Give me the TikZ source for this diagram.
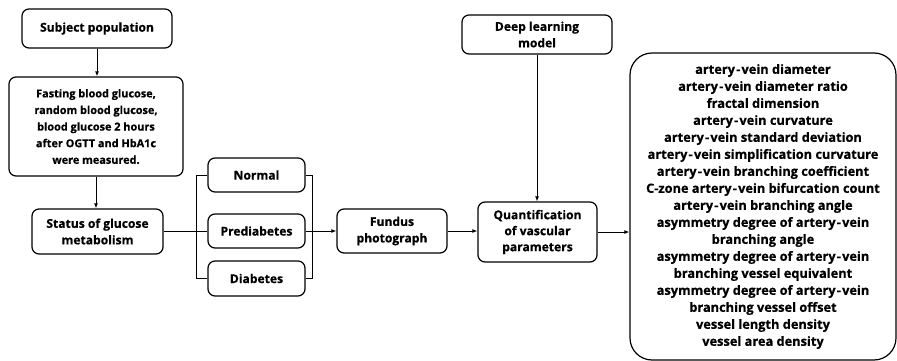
\documentclass[tikz,border=0pt]{standalone}
\usepackage{fontspec}
\setmainfont{Open Sans}[BoldFeatures={FakeBold=0.6}]
\usetikzlibrary{arrows.meta, positioning}

\newcommand{\av}{artery\kern1.2pt-\kern1.2pt vein}

\begin{document}
\begin{tikzpicture}[
    x=1pt, y=-1pt,
    font=\fontsize{12.1}{16.5}\selectfont\bfseries,
    box/.style={rectangle, draw, line width=1.2pt, rounded corners=7pt, align=center, inner sep=2pt},
    arrow/.style={-{Latex[length=5pt,width=4pt]}, line width=1pt},
    link/.style={line width=1pt}
]
    \useasboundingbox (0,0) rectangle (897,361);

    % Left column
    \node[box, minimum width=150pt, minimum height=39pt] (subject) at (97,28.5) {Subject population};
    \node[box, minimum width=174pt, minimum height=99pt, font=\fontsize{10.9}{16.6}\selectfont\bfseries] (fasting) at (96,126.5) {Fasting blood glucose,\\random blood glucose,\\blood glucose 2 hours\\after OGTT and HbA1c\\were measured.};
    \node[box, minimum width=131pt, minimum height=45pt] (status) at (97.5,231.5) {Status of glucose\\metabolism};

    \draw[arrow] (subject.south) -- (subject.south |- fasting.north);
    \draw[arrow] (fasting.south) -- (fasting.south |- status.north);

    % Groups
    \node[box, minimum width=97pt, minimum height=34pt] (normal) at (256.5,175) {Normal};
    \node[box, minimum width=97pt, minimum height=34pt] (prediab) at (256.5,231) {Prediabetes};
    \node[box, minimum width=97pt, minimum height=35pt] (diab) at (256.5,278.5) {Diabetes};

    \draw[link] (status.east) -- (status.east -| prediab.west);
    \draw[link] (normal.west) -- ++(-11,0) |- (diab.west);
    \draw[link] (normal.east) -- ++(7,0) |- (diab.east);

    % Imaging and quantification
    \node[box, minimum width=110pt, minimum height=44pt] (fundus) at (392,231) {Fundus\\photograph};
    \node[box, minimum width=119pt, minimum height=60pt, font=\fontsize{12.1}{16}\selectfont\bfseries] (quant) at (537.5,232) {Quantification\\of vascular\\parameters};
    \node[box, minimum width=150pt, minimum height=39pt] (deep) at (537,34.5) {Deep learning\\model};

    \draw[arrow] (prediab.east) -- (prediab.east -| fundus.west);
    \draw[arrow] (fundus.east) -- (fundus.east -| quant.west);
    \draw[arrow] (deep.south) -- (deep.south |- quant.north);

    % Parameters
    \node[box, rounded corners=22pt, minimum width=266pt, minimum height=307pt, font=\fontsize{12.8}{17}\selectfont\bfseries] (params) at (763,206.5) {\av{} diameter\\\av{} diameter ratio\\fractal dimension\\\av{} curvature\\\av{} standard deviation\\\av{} simplification curvature\\\av{} branching coefficient\\C-zone \av{} bifurcation count\\\av{} branching angle\\asymmetry degree of \av\\branching angle\\asymmetry degree of \av\\branching vessel equivalent\\asymmetry degree of \av\\branching vessel offset\\vessel length density\\vessel area density};

    \draw[arrow] (quant.east) -- (quant.east -| params.west);
\end{tikzpicture}
\end{document}
